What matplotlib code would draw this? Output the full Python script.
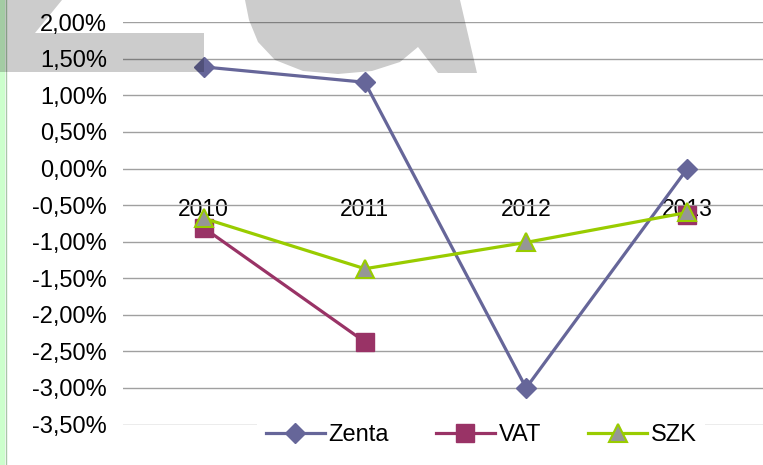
import numpy as np
import matplotlib
matplotlib.use("Agg")
import matplotlib.pyplot as plt
from matplotlib.ticker import FuncFormatter, MultipleLocator
from matplotlib.path import Path
from matplotlib.patches import PathPatch, Rectangle

plt.rcParams['font.family'] = ['Liberation Sans', 'DejaVu Sans']

# ---- data ----
years = ["2010", "2011", "2012", "2013"]
zenta = [1.39, 1.18, -3.00, 0.00]
vat = [-0.81, -2.37, np.nan, -0.63]
szk = [-0.68, -1.37, -1.01, -0.60]

W, H = 763, 465
fig = plt.figure(figsize=(W / 100, H / 100), dpi=100)

# background strip on the left
bg = fig.add_axes([0, 0, 1, 1], zorder=-5)
bg.set_xlim(0, W); bg.set_ylim(H, 0); bg.axis('off')
bg.add_patch(Rectangle((0, 0), 5, H, facecolor='#ccffcc', edgecolor='none'))
bg.plot([5.5, 5.5], [0, H], color='#a8c8a8', lw=1.0)

ax = fig.add_axes([123 / W, (H - 424.5) / H, 645 / W, (424.5 - 22.3) / H])
ax.set_facecolor('none')
x = np.arange(len(years))

ax.plot(x, zenta, color='#666699', lw=2.3, marker='D', ms=10.5,
        mfc='#666699', mec='#666699', label='Zenta', zorder=3)
ax.plot(x, vat, color='#993366', lw=2.3, marker='s', ms=13.5,
        mfc='#993366', mec='#993366', label='VAT', zorder=4)
ax.plot(x, szk, color='#99cc00', lw=2.3, marker='^', ms=13,
        mfc='#969696', mec='#99cc00', mew=1.5, label='SZK', zorder=5)

ax.set_xlim(-0.5, len(years) - 0.5)
ax.set_ylim(-3.5, 2.0)
ax.yaxis.set_major_locator(MultipleLocator(0.5))
ax.yaxis.set_major_formatter(FuncFormatter(lambda v, p: f"{v:.2f}%".replace('.', ',')))
ax.grid(axis='y', color='#a0a0a0', lw=1.0)
ax.set_axisbelow(True)
for s in ['top', 'right', 'left']:
    ax.spines[s].set_visible(False)
ax.spines['bottom'].set_position(('data', 0))
ax.spines['bottom'].set_visible(False)
ax.set_xticks(x)
ax.set_xticklabels(years)
ax.tick_params(axis='x', length=0, pad=21, labelsize=16.5)
ax.tick_params(axis='y', length=0, pad=11.5, labelsize=17)

leg = fig.legend(loc='center', bbox_to_anchor=(481 / W, 1 - 435 / H), ncol=3,
                 fontsize=17, frameon=True, facecolor='white', edgecolor='none',
                 framealpha=1, fancybox=False, handlelength=2.5, handletextpad=0.15,
                 columnspacing=2.0, borderpad=0.35, numpoints=1)
leg.set_zorder(6)

# watermark overlay
ov = fig.add_axes([0, 0, 1, 1], zorder=10)
ov.set_xlim(0, W); ov.set_ylim(H, 0); ov.axis('off'); ov.set_facecolor('none')
wm = dict(facecolor='black', alpha=0.2, edgecolor='none')
zshape = [(0, 0), (62, 0), (35, 33), (204, 33), (204, 72), (0, 72), (0, 0)]
ov.add_patch(PathPatch(Path(zshape, closed=True), **wm))
outer = [(245, 0), (460, 0), (477, 73), (438, 73), (418, 47), (400, 62), (372, 71),
         (338, 74), (303, 71), (275, 60), (258, 42), (249, 20), (245, 0)]
inner = [(290, 0), (413, 0), (410, 18), (396, 34), (368, 45), (336, 46), (312, 39),
         (298, 25), (290, 0)]
verts = outer + inner
codes = ([Path.MOVETO] + [Path.LINETO] * (len(outer) - 2) + [Path.CLOSEPOLY] +
         [Path.MOVETO] + [Path.LINETO] * (len(inner) - 2) + [Path.CLOSEPOLY])
ov.add_patch(PathPatch(Path(verts, codes), **wm))

fig.savefig('out.png', dpi=100)
